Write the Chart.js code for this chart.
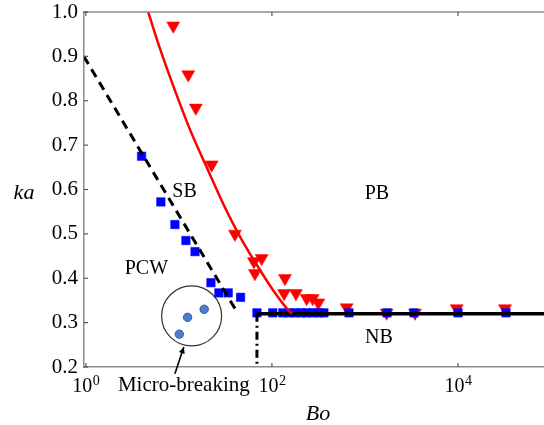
<!DOCTYPE html>
<html>
<head>
<meta charset="utf-8">
<script src="https://cdn.jsdelivr.net/npm/chart.js@4/dist/chart.umd.min.js"></script>
<style>
  html, body { margin: 0; padding: 0; background: #ffffff; }
  #wrap { width: 544px; height: 425px; position: relative; }
</style>
</head>
<body>
<div id="wrap"><canvas id="c" width="544" height="425"></canvas></div>
<script>
// ---- data ----
const xTickValues = [1, 100, 10000];
const xTickBase = '10';
const xTickExponents = ['0', '2', '4'];
const yTickValues = [0.2, 0.3, 0.4, 0.5, 0.6, 0.7, 0.8, 0.9, 1.0];

// Plunging/spilling breakers (red down-triangles)
const pbBo = [8.7, 12.6, 15.2, 22.5, 40, 64, 77.5, 65.6, 138, 135, 181, 236, 274, 315, 636, 1710, 3450, 9690, 32000];
const pbKa = [0.969, 0.859, 0.784, 0.656, 0.500, 0.438, 0.445, 0.411, 0.400, 0.366, 0.366, 0.355, 0.355, 0.345, 0.334, 0.322, 0.322, 0.332, 0.332];

// Blue squares
const sqBo = [3.97, 6.4, 9.06, 11.9, 14.9, 22.1, 26.9, 33.9, 46, 69, 102, 131, 152, 177, 205, 238, 276, 320, 362, 673, 1726, 3365, 10000, 32800];
const sqKa = [0.675, 0.572, 0.521, 0.485, 0.460, 0.390, 0.367, 0.367, 0.357, 0.322, 0.322, 0.322, 0.322, 0.322, 0.322, 0.322, 0.322, 0.322, 0.322, 0.322, 0.322, 0.322, 0.322, 0.322];

// Micro-breaking dots
const mbBo = [10.1, 12.4, 18.7];
const mbKa = [0.274, 0.312, 0.330];
const mbCircleBo = [13.7];
const mbCircleKa = [0.315];

// Boundary curves
const dashBo = [0.95, 41];
const dashKa = [0.90, 0.328];
const redCurveBo = [4.68, 6.25, 8.68, 13.1, 19.9, 29.9, 45.3, 68.4, 103, 150, 165];
const redCurveKa = [1.0, 0.918, 0.834, 0.736, 0.650, 0.568, 0.494, 0.431, 0.373, 0.328, 0.320];
const nbLineBo = [69, 84000];
const nbLineKa = [0.320, 0.320];
const vertLineBo = [69, 69];
const vertLineKa = [0.320, 0.2];

// Region labels
const regionNames = ['SB', 'PCW', 'PB', 'NB', 'Micro-breaking'];
const regionBo = [11.5, 4.47, 1346, 1415, 11.3];
const regionKa = [0.596, 0.422, 0.590, 0.266, 0.158];
const regionSize = [20, 20, 20, 20, 21];
const arrowBo = [9.06, 11.3];
const arrowKa = [0.185, 0.245];

const xMin = 0.955, xMax = 84000;

const pts = (xs, ys) => xs.map((v, i) => ({x: v, y: ys[i]}));
const SERIF = '"Liberation Serif", "Times New Roman", serif';
const AXIS = '#8c8c8c';

const annot = {
  id: 'annot',
  afterDatasetsDraw(chart) {
    const {ctx, chartArea: a, scales: {x, y}} = chart;
    ctx.save();
    const line = (x1, y1, x2, y2) => { ctx.beginPath(); ctx.moveTo(x1, y1); ctx.lineTo(x2, y2); ctx.stroke(); };
    // top frame
    ctx.strokeStyle = AXIS; ctx.lineWidth = 1.5;
    line(a.left, a.top, a.right, a.top);
    // inward ticks
    ctx.lineWidth = 1.2;
    ctx.strokeStyle = '#555';
    y.ticks.forEach(t => { const py = y.getPixelForValue(t.value); line(a.left, py, a.left + 4, py); });
    x.ticks.forEach(t => { const px = x.getPixelForValue(t.value); line(px, a.bottom, px, a.bottom - 4); line(px, a.top, px, a.top + 4); });
    // x tick labels with superscript exponents
    ctx.fillStyle = '#000';
    ctx.textBaseline = 'alphabetic';
    ctx.textAlign = 'left';
    xTickValues.forEach((v, i) => {
      const px = x.getPixelForValue(v);
      ctx.font = '20px ' + SERIF;
      const wb = ctx.measureText(xTickBase).width;
      ctx.font = '14px ' + SERIF;
      const we = ctx.measureText(xTickExponents[i]).width;
      const x0 = px - (wb + we) / 2;
      ctx.font = '20px ' + SERIF;
      ctx.fillText(xTickBase, x0, a.bottom + 25);
      ctx.font = '14px ' + SERIF;
      ctx.fillText(xTickExponents[i], x0 + wb + 0.5, a.bottom + 18);
    });
    // region labels
    ctx.textAlign = 'center';
    ctx.textBaseline = 'middle';
    regionNames.forEach((n, i) => {
      ctx.font = regionSize[i] + 'px ' + SERIF;
      ctx.fillText(n, x.getPixelForValue(regionBo[i]), y.getPixelForValue(regionKa[i]));
    });
    // arrow
    const x1 = x.getPixelForValue(arrowBo[0]), y1 = y.getPixelForValue(arrowKa[0]);
    const x2 = x.getPixelForValue(arrowBo[1]), y2 = y.getPixelForValue(arrowKa[1]);
    ctx.strokeStyle = '#000'; ctx.lineWidth = 1.6;
    line(x1, y1, x2, y2);
    const ang = Math.atan2(y2 - y1, x2 - x1);
    const hl = 7, hw = 0.45;
    ctx.beginPath();
    ctx.moveTo(x2, y2);
    ctx.lineTo(x2 - hl * Math.cos(ang - hw), y2 - hl * Math.sin(ang - hw));
    ctx.lineTo(x2 - hl * Math.cos(ang + hw), y2 - hl * Math.sin(ang + hw));
    ctx.closePath(); ctx.fillStyle = '#000'; ctx.fill();
    // axis titles
    ctx.font = 'italic 22px ' + SERIF;
    ctx.textBaseline = 'middle';
    ctx.fillText('ka', 24, 193);
    ctx.fillText('Bo', 318, 414);
    ctx.restore();
  }
};

new Chart(document.getElementById('c'), {
  type: 'scatter',
  data: {
    datasets: [
      { data: pts(dashBo, dashKa), showLine: true, borderColor: '#000', borderWidth: 3, borderDash: [9, 6], pointRadius: 0, order: 0 },
      { data: pts(redCurveBo, redCurveKa), showLine: true, borderColor: '#ff0000', borderWidth: 2.5, cubicInterpolationMode: 'monotone', pointRadius: 0, order: 0 },
      { data: pts(nbLineBo, nbLineKa), showLine: true, borderColor: '#000', borderWidth: 3.5, pointRadius: 0, order: 0 },
      { data: pts(vertLineBo, vertLineKa), showLine: true, borderColor: '#000', borderWidth: 3, borderDash: [8, 4, 2, 4], pointRadius: 0, order: 0 },
      { data: pts(sqBo, sqKa), pointStyle: 'rect', pointRadius: 6, backgroundColor: '#0000ff', borderColor: '#0000ff', borderWidth: 0.5, order: 1 },
      { data: pts(pbBo, pbKa), pointStyle: 'triangle', rotation: 180, pointRadius: 7.5, backgroundColor: '#ff0000', borderColor: '#ff0000', borderWidth: 0.5, order: 1 },
      { data: pts(mbCircleBo, mbCircleKa), pointStyle: 'circle', pointRadius: 30, backgroundColor: 'rgba(0,0,0,0)', borderColor: '#333', borderWidth: 1.2, order: 1 },
      { data: pts(mbBo, mbKa), pointStyle: 'circle', pointRadius: 4.2, backgroundColor: '#4a7fd0', borderColor: '#2d5aa0', borderWidth: 1, order: 1 }
    ]
  },
  options: {
    responsive: false,
    animation: false,
    events: [],
    layout: { autoPadding: false, padding: { top: 12, right: 0, left: 0, bottom: 0 } },
    plugins: { legend: { display: false }, tooltip: { enabled: false } },
    scales: {
      x: {
        type: 'logarithmic', min: xMin, max: xMax,
        afterBuildTicks: s => { s.ticks = xTickValues.map(v => ({value: v})); },
        afterFit: s => { s.height = 58; s.paddingLeft = 0; s.paddingRight = 0; },
        grid: { display: false, drawTicks: false },
        border: { display: true, color: AXIS, width: 1.5 },
        ticks: { display: false }
      },
      y: {
        min: 0.2, max: 1.0,
        afterBuildTicks: s => { s.ticks = yTickValues.map(v => ({value: v})); },
        afterFit: s => { s.width = 84; s.paddingTop = 0; s.paddingBottom = 0; },
        grid: { display: false, drawTicks: false },
        border: { display: true, color: AXIS, width: 1.5 },
        ticks: {
          padding: 6, color: '#000',
          font: { family: SERIF, size: 21 },
          callback: v => v.toFixed(1)
        }
      }
    }
  },
  plugins: [annot]
});
</script>
</body>
</html>
